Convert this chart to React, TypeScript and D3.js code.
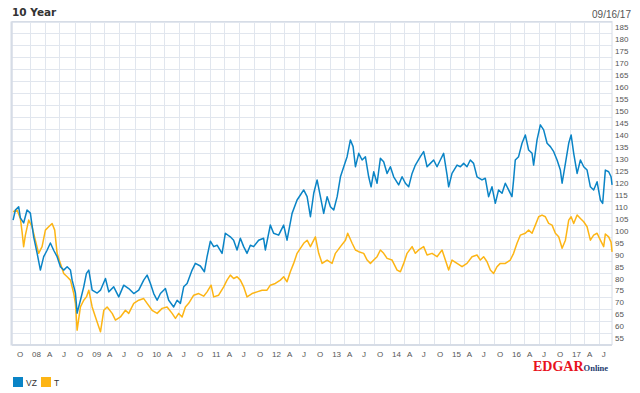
import React from "react";
import * as d3 from "d3";

// decimal years
const vzTimes = [
  2007.725, 2007.763, 2007.818, 2007.846, 2007.901, 2007.958, 2008.013, 2008.068, 2008.125, 2008.18,
  2008.235, 2008.291, 2008.346, 2008.401, 2008.458, 2008.513, 2008.568, 2008.625, 2008.68, 2008.708,
  2008.763, 2008.791, 2008.846, 2008.901, 2008.946, 2008.985, 2009.041, 2009.125, 2009.18, 2009.263,
  2009.318, 2009.401, 2009.485, 2009.568, 2009.651, 2009.735, 2009.818, 2009.901, 2009.958, 2010.013,
  2010.068, 2010.125, 2010.18, 2010.263, 2010.318, 2010.401, 2010.458, 2010.513, 2010.568, 2010.625,
  2010.708, 2010.763, 2010.846, 2010.913, 2010.958, 2011.013, 2011.068, 2011.125, 2011.208, 2011.263,
  2011.346, 2011.401, 2011.458, 2011.513, 2011.568, 2011.625, 2011.68, 2011.735, 2011.818, 2011.901,
  2011.93, 2012.013, 2012.068, 2012.151, 2012.235, 2012.291, 2012.375, 2012.458, 2012.513, 2012.568,
  2012.625, 2012.68, 2012.735, 2012.791, 2012.846, 2012.901, 2012.958, 2013.013, 2013.068, 2013.125,
  2013.18, 2013.235, 2013.291, 2013.346, 2013.391, 2013.43, 2013.485, 2013.541, 2013.596, 2013.651,
  2013.691, 2013.735, 2013.791, 2013.846, 2013.901, 2013.958, 2014.013, 2014.068, 2014.151, 2014.208,
  2014.263, 2014.318, 2014.375, 2014.43, 2014.513, 2014.568, 2014.625, 2014.68, 2014.735, 2014.791,
  2014.846, 2014.901, 2014.958, 2014.985, 2015.041, 2015.125, 2015.18, 2015.235, 2015.291, 2015.346,
  2015.401, 2015.458, 2015.541, 2015.596, 2015.651, 2015.708, 2015.763, 2015.818, 2015.875, 2015.93,
  2015.985, 2016.041, 2016.068, 2016.096, 2016.151, 2016.208, 2016.263, 2016.318, 2016.375, 2016.401,
  2016.458, 2016.513, 2016.568, 2016.625, 2016.68, 2016.735, 2016.791, 2016.846, 2016.875, 2016.93,
  2016.985, 2017.025, 2017.068, 2017.125, 2017.18, 2017.235, 2017.291, 2017.346, 2017.401, 2017.458,
  2017.513, 2017.551, 2017.596, 2017.651, 2017.691, 2017.708,
];
const vzValues = [
  104.5, 108.7, 110.1, 105.4, 103.3, 108.7, 107.4, 97.5, 90.7, 83.6,
  89.2, 91.9, 94.9, 91.9, 89.2, 85.0, 83.6, 85.0, 83.6, 79.4,
  74.0, 65.6, 71.0, 76.6, 82.2, 83.6, 75.2, 74.0, 75.2, 80.1,
  74.5, 76.6, 72.4, 77.3, 75.9, 73.8, 75.2, 79.4, 81.5, 78.0,
  73.8, 71.0, 73.8, 75.9, 71.0, 68.2, 71.0, 69.7, 76.6, 78.0,
  83.6, 86.4, 85.3, 82.9, 89.2, 95.7, 93.4, 94.0, 90.6, 99.0,
  97.5, 96.1, 92.0, 96.9, 93.4, 90.6, 94.0, 93.4, 96.1, 96.9,
  92.0, 102.4, 99.0, 98.2, 102.4, 96.1, 107.3, 112.9, 115.0, 117.1,
  114.3, 105.9, 115.7, 121.3, 114.3, 107.3, 114.3, 110.1, 108.7, 114.3,
  122.6, 126.8, 131.0, 138.0, 135.2, 126.8, 132.4, 129.6, 131.0, 122.6,
  118.4, 124.7, 119.9, 130.3, 128.9, 124.0, 126.8, 122.6, 119.2, 122.6,
  119.9, 118.4, 124.0, 127.5, 131.0, 133.1, 126.8, 128.2, 129.6, 126.8,
  129.6, 132.4, 123.4, 118.4, 124.0, 127.5, 126.8, 128.2, 126.8, 129.6,
  128.2, 122.6, 121.3, 122.0, 114.3, 118.4, 111.5, 117.1, 115.7, 119.9,
  117.1, 114.3, 121.3, 129.6, 131.0, 136.6, 140.1, 133.8, 132.4, 127.5,
  138.0, 144.3, 142.2, 136.6, 135.2, 133.1, 129.6, 125.4, 119.9, 128.2,
  136.6, 140.1, 132.4, 124.0, 129.6, 126.8, 125.4, 118.4, 117.1, 120.5,
  112.9, 111.5, 125.4, 124.7, 122.6, 119.2,
];

const tTimes = [
  2007.725, 2007.791, 2007.846, 2007.875, 2007.901, 2007.93, 2007.985, 2008.041, 2008.096, 2008.151,
  2008.208, 2008.263, 2008.318, 2008.375, 2008.418, 2008.458, 2008.513, 2008.568, 2008.625, 2008.68,
  2008.735, 2008.763, 2008.791, 2008.846, 2008.901, 2008.946, 2008.985, 2009.041, 2009.096, 2009.151,
  2009.18, 2009.235, 2009.291, 2009.375, 2009.43, 2009.513, 2009.596, 2009.651, 2009.735, 2009.818,
  2009.901, 2009.958, 2010.041, 2010.125, 2010.208, 2010.291, 2010.375, 2010.43, 2010.485, 2010.541,
  2010.596, 2010.651, 2010.735, 2010.818, 2010.901, 2010.958, 2011.025, 2011.068, 2011.151, 2011.235,
  2011.291, 2011.346, 2011.401, 2011.458, 2011.513, 2011.568, 2011.625, 2011.708, 2011.791, 2011.875,
  2011.958, 2012.013, 2012.096, 2012.18, 2012.235, 2012.291, 2012.346, 2012.401, 2012.458, 2012.513,
  2012.568, 2012.625, 2012.68, 2012.735, 2012.763, 2012.818, 2012.875, 2012.958, 2013.041, 2013.096,
  2013.18, 2013.263, 2013.301, 2013.375, 2013.43, 2013.485, 2013.568, 2013.625, 2013.68, 2013.735,
  2013.791, 2013.846, 2013.901, 2013.958, 2014.041, 2014.125, 2014.18, 2014.235, 2014.291, 2014.375,
  2014.43, 2014.485, 2014.568, 2014.625, 2014.708, 2014.791, 2014.875, 2014.93, 2014.985, 2015.041,
  2015.125, 2015.208, 2015.291, 2015.375, 2015.458, 2015.513, 2015.568, 2015.625, 2015.68, 2015.735,
  2015.791, 2015.846, 2015.93, 2016.013, 2016.068, 2016.125, 2016.18, 2016.263, 2016.318, 2016.375,
  2016.43, 2016.485, 2016.541, 2016.596, 2016.651, 2016.708, 2016.763, 2016.818, 2016.875, 2016.93,
  2016.985, 2017.025, 2017.068, 2017.125, 2017.18, 2017.235, 2017.291, 2017.346, 2017.401, 2017.458,
  2017.513, 2017.568, 2017.596, 2017.651, 2017.691, 2017.708,
];
const tValues = [
  108.0, 108.7, 105.2, 99.6, 93.4, 98.2, 104.5, 101.7, 96.1, 90.6,
  93.4, 100.3, 101.7, 103.1, 100.3, 90.6, 86.4, 82.2, 80.8, 79.4,
  73.8, 69.7, 58.5, 68.2, 71.0, 72.4, 75.2, 68.2, 64.0, 59.9,
  57.8, 66.8, 68.2, 65.5, 62.7, 64.0, 66.8, 65.5, 69.7, 71.0,
  71.7, 69.7, 66.8, 65.5, 67.6, 68.2, 65.5, 63.4, 65.5, 64.0,
  68.2, 69.7, 73.1, 73.8, 72.7, 74.5, 77.3, 72.4, 73.1, 76.6,
  79.4, 81.5, 80.1, 80.8, 79.4, 76.6, 72.4, 73.8, 74.5, 75.2,
  75.2, 77.3, 78.0, 79.4, 80.8, 78.7, 82.9, 86.4, 90.6, 92.7,
  94.8, 96.1, 93.4, 96.1, 97.5, 90.6, 86.4, 87.8, 86.4, 90.6,
  93.4, 96.1, 99.0, 94.8, 92.0, 91.3, 90.6, 87.8, 86.4, 87.8,
  89.2, 92.0, 90.6, 88.5, 87.8, 83.6, 82.9, 86.4, 90.6, 93.4,
  90.6, 92.0, 93.4, 89.9, 90.6, 89.2, 92.0, 87.8, 83.6, 87.8,
  86.4, 85.0, 86.4, 89.2, 89.9, 87.8, 89.2, 87.1, 83.6, 82.2,
  85.0, 86.4, 86.4, 87.8, 90.6, 94.8, 98.2, 99.0, 100.3, 99.0,
  102.4, 105.9, 106.6, 105.9, 103.1, 102.4, 99.0, 97.5, 92.7, 96.1,
  104.5, 105.9, 103.1, 106.6, 105.2, 103.8, 101.7, 96.1, 98.2, 99.0,
  96.1, 93.4, 98.7, 97.5, 95.3, 91.2,
];

const yTicks = d3.range(55, 186, 5);
const seriesNames = ["VZ", "T"];
const seriesColors = ["#0a84c6", "#fdb515"];
const monthLetters: Record<number, string> = { 3: "A", 6: "J", 9: "O" };

const toDate = (t: number) => {
  const y = Math.floor(t);
  const a = Date.UTC(y, 0, 1);
  const b = Date.UTC(y + 1, 0, 1);
  return new Date(a + (t - y) * (b - a));
};

const W = 640;
const H = 393;
const left = 12;
const right = 612;
const top = 21.5;
const bottom = 344.5;

export default function App() {
  const start = new Date(Date.UTC(2007, 8, 16));
  const end = new Date(Date.UTC(2017, 8, 16));
  const x = d3.scaleUtc().domain([start, end]).range([left, right]);
  // labels sit in the middle of each 5-point band
  const y = d3.scaleLinear().domain([52.5, 187.5]).range([bottom, top]);

  const quarters = d3.utcMonth.every(3)!.range(new Date(Date.UTC(2007, 9, 1)), end);

  const line = d3
    .line<[number, number]>()
    .x((d) => x(toDate(d[0])))
    .y((d) => y(d[1]));

  const vz = vzTimes.map((t, i) => [t, vzValues[i]] as [number, number]);
  const tt = tTimes.map((t, i) => [t, tValues[i]] as [number, number]);

  const grid = "#e1e6ee";
  const label = "#555";

  return (
    <svg width={W} height={H} style={{ position: "absolute", left: 0, top: 0, background: "#fff" }}>
      <text x={12} y={16} fontFamily="DejaVu Sans" fontWeight="bold" fontSize={10.5} fill="#333">
        10 Year
      </text>
      <text x={631} y={18} textAnchor="end" fontFamily="Liberation Sans" fontSize={10} fill="#555">
        09/16/17
      </text>

      {/* horizontal grid */}
      {yTicks.map((v) => (
        <line key={v} x1={left} x2={right} y1={Math.round(y(v + 2.5)) + 0.5} y2={Math.round(y(v + 2.5)) + 0.5} stroke={grid} />
      ))}
      {/* vertical grid */}
      {quarters.slice(1).map((d) => (
        <line key={+d} x1={Math.round(x(d)) + 0.5} x2={Math.round(x(d)) + 0.5} y1={top} y2={bottom} stroke={grid} />
      ))}
      <rect x={left} y={top} width={right - left} height={bottom - top} fill="none" stroke="#d6dce6" />
      <line x1={left - 0.5} x2={left - 0.5} y1={top} y2={bottom + 1} stroke="#d6dce6" strokeWidth={2} />
      <line x1={left} x2={right} y1={bottom + 0.5} y2={bottom + 0.5} stroke="#d6dce6" strokeWidth={2} />

      {/* y labels */}
      {yTicks.map((v) => (
        <text key={v} x={615} y={y(v)} dy="0.35em" fontFamily="Liberation Sans" fontSize={8} fill={label}>
          {v}
        </text>
      ))}
      {/* x labels */}
      {quarters.map((d) => {
        const m = d.getUTCMonth();
        const s = m === 0 ? String(d.getUTCFullYear()).slice(2) : monthLetters[m];
        return (
          <text key={+d} x={x(d) + 2.5} y={357} fontFamily="Liberation Sans" fontSize={8} fill={label}>
            {s}
          </text>
        );
      })}

      <path d={line(tt) ?? ""} fill="none" stroke={seriesColors[1]} strokeWidth={1.5} strokeLinejoin="round" />
      <path d={line(vz) ?? ""} fill="none" stroke={seriesColors[0]} strokeWidth={1.5} strokeLinejoin="round" />

      {/* legend */}
      <g fontFamily="Liberation Sans" fontSize={8.5} fill="#333">
        <rect x={13} y={377} width={10} height={10} fill={seriesColors[0]} />
        <text x={26} y={385.5}>{seriesNames[0]}</text>
        <rect x={41} y={377} width={10} height={10} fill={seriesColors[1]} />
        <text x={54} y={385.5}>{seriesNames[1]}</text>
      </g>

      <text x={533} y={371} fontFamily="Liberation Serif" fontWeight="bold">
        <tspan fontSize={14} fill="#e8121c">EDGAR</tspan>
        <tspan fontSize={8.5} fill="#1c3a6e">Online</tspan>
      </text>
    </svg>
  );
}
